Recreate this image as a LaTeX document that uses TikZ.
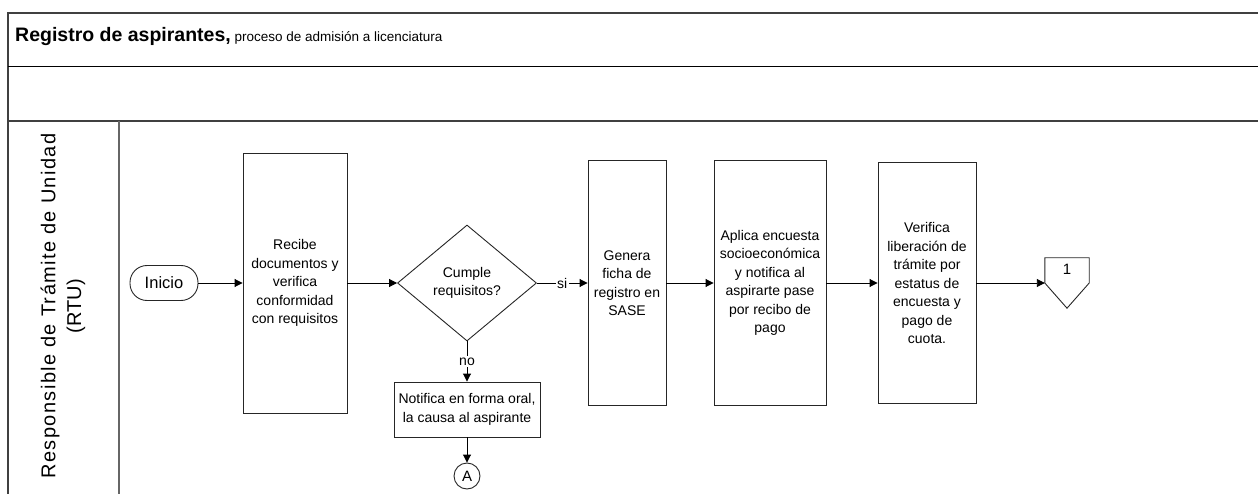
\documentclass[tikz,border=0pt]{standalone}
\usepackage{fontspec}
\setmainfont{Liberation Sans}
\newfontfamily\lanefont[LetterSpace=7]{Liberation Sans}
\usetikzlibrary{arrows.meta,shapes.geometric,calc}
\begin{document}
\begin{tikzpicture}[x=1pt,y=-1pt,
  frame/.style={draw=black!75, line width=1.6pt},
  proc/.style={draw=black!85, line width=0.9pt, fill=white, align=center,
    font=\fontsize{14}{18.5}\selectfont, inner sep=0pt},
  flow/.style={draw=black, line width=0.9pt, -{Triangle[length=8pt,width=8pt]}},
  lbl/.style={fill=white, inner sep=1.5pt, font=\fontsize{14}{16}\selectfont}
]
\useasboundingbox (0,0) rectangle (1258,494);

% frame
\draw[frame] (8,494) -- (8,13) -- (1258,13);
\draw[black, line width=1pt] (8,67) -- (1258,67);
\draw[frame] (8,121) -- (1258,121);
\draw[draw=black!60, line width=1.4pt] (119,121) -- (119,494);

% title
\node[anchor=base west, inner sep=0pt] (title) at (15,42)
  {\fontsize{19.5}{22}\selectfont\bfseries Registro de aspirantes,\fontsize{13.5}{15}\selectfont\mdseries\ proceso de admisión a licenciatura};

% lane label
\node[rotate=90, align=center, inner sep=0pt] (lane) at (63,306)
  {\lanefont\fontsize{20}{24}\selectfont Responsible de Trámite de Unidad\\[6pt] \rmfamily\fontsize{20}{24}\selectfont (RTU)};

% nodes
\node[draw=black!85, line width=0.9pt, rounded corners=17pt, minimum width=68pt,
  minimum height=35pt, inner sep=0pt, font=\fontsize{16.5}{18}\selectfont] (inicio) at (164,283) {Inicio};

\node[proc, minimum width=104pt, minimum height=260pt] (box1) at (295,283)
  {Recibe\\documentos y\\verifica\\conformidad\\con requisitos};

\node[proc, shape=diamond, minimum width=139pt, minimum height=116pt] (dia) at (467,283)
  {Cumple\\requisitos?};

\node[proc, minimum width=78pt, minimum height=245pt] (box2) at (627,283)
  {Genera\\ficha de\\registro en\\SASE};

\node[proc, minimum width=112pt, minimum height=245pt] (box3) at (770,283)
  {Aplica encuesta\\socioeconómica\\y notifica al\\aspirarte pase\\por recibo de\\pago};

\node[proc, minimum width=98pt, minimum height=241pt] (box4) at (927,283)
  {Verifica\\liberación de\\trámite por\\estatus de\\encuesta y\\pago de\\cuota.};

\node[proc, minimum width=146pt, minimum height=55pt] (notif) at (467,409.5)
  {Notifica en forma oral,\\la causa al aspirante};

\node[draw=black!85, line width=0.9pt, circle, minimum size=26pt, inner sep=0pt,
  font=\fontsize{15}{16}\selectfont] (circA) at (467,476) {A};

\node[minimum width=44pt, minimum height=50pt, inner sep=0pt] (conn1) at (1067,283) {};
\draw[draw=black!85, line width=0.9pt] (conn1.north west) -- (conn1.north east) -- (conn1.east)
  -- (conn1.south) -- (conn1.west) -- cycle;
\node[inner sep=0pt, font=\fontsize{15}{16}\selectfont] (conn1txt) at (1067,269) {1};

% connectors
\draw[flow] (inicio) -- (box1);
\draw[flow] (box1) -- (dia);
\draw[flow] (dia.east) -- node[lbl] (si) {si} (box2.west);
\draw[flow] (box2) -- (box3);
\draw[flow] (box3) -- (box4);
\draw[flow] (box4.east) -- (conn1.west);
\draw[flow] (dia.south) -- node[lbl] (no) {no} (notif.north);
\draw[flow] (notif) -- (circA);
\end{tikzpicture}
\end{document}
